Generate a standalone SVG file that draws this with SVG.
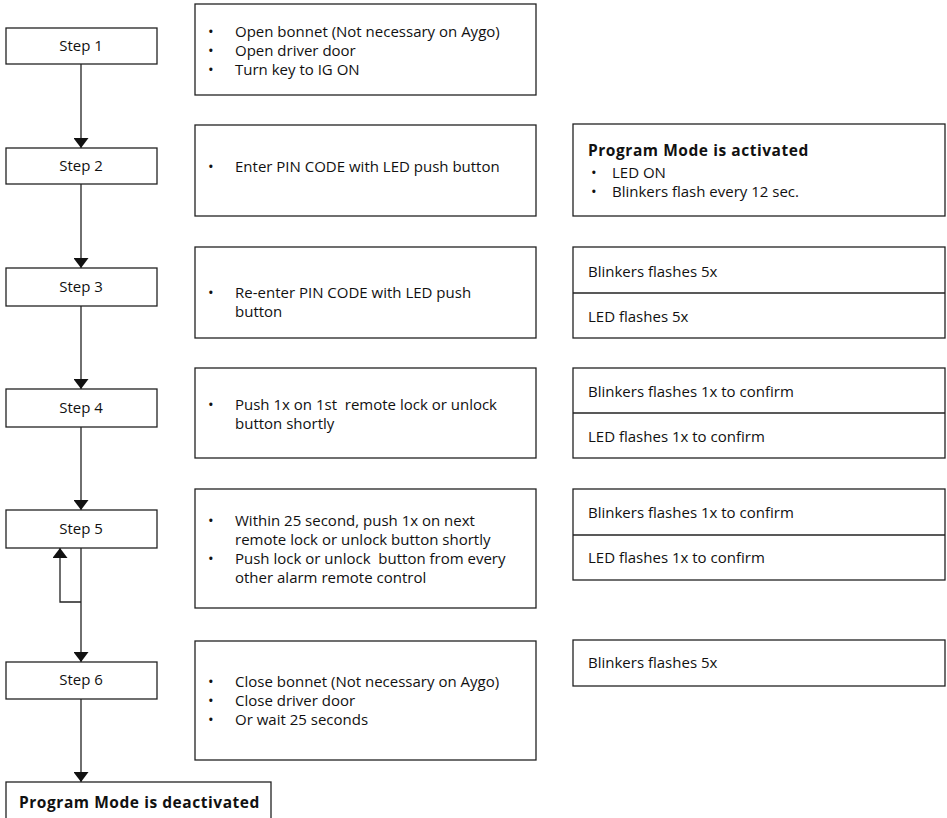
<svg xmlns="http://www.w3.org/2000/svg" width="947" height="818" viewBox="0 0 947 818">
<defs>
<marker id="ah" viewBox="0 0 10 15" refX="10" refY="7.5" markerWidth="10" markerHeight="15" markerUnits="userSpaceOnUse" orient="auto">
<path d="M0,0 L10,7.5 L0,15 Z" fill="#111"/>
</marker>
<style>
.box{fill:#fff;stroke:#222;stroke-width:1.3}
.ln{fill:none;stroke:#222;stroke-width:1.3}
text{font-family:"Open Sans","Liberation Sans",sans-serif;font-size:15px;fill:#111}
.c{text-anchor:middle}
.b{font-weight:bold;font-size:15.5px;letter-spacing:0.55px}
</style>
</defs>
<rect width="947" height="818" fill="#fff"/>

<g id="connectors">
<line class="ln" x1="81" y1="64" x2="81" y2="148" marker-end="url(#ah)"/>
<line class="ln" x1="81" y1="184" x2="81" y2="268" marker-end="url(#ah)"/>
<line class="ln" x1="81" y1="306" x2="81" y2="389" marker-end="url(#ah)"/>
<line class="ln" x1="81" y1="427" x2="81" y2="510" marker-end="url(#ah)"/>
<line class="ln" x1="81" y1="548" x2="81" y2="662" marker-end="url(#ah)"/>
<polyline class="ln" points="81,602 60,602 60,548" marker-end="url(#ah)"/>
<line class="ln" x1="81" y1="699" x2="81" y2="782" marker-end="url(#ah)"/>
</g>

<g id="step1"><rect class="box" x="6" y="28" width="151" height="36"/><text class="c" x="81" y="51">Step 1</text></g>
<g id="step2"><rect class="box" x="6" y="148" width="151" height="36"/><text class="c" x="81" y="171">Step 2</text></g>
<g id="step3"><rect class="box" x="6" y="268" width="151" height="38"/><text class="c" x="81" y="292">Step 3</text></g>
<g id="step4"><rect class="box" x="6" y="389" width="151" height="38"/><text class="c" x="81" y="413">Step 4</text></g>
<g id="step5"><rect class="box" x="6" y="510" width="151" height="38"/><text class="c" x="81" y="534">Step 5</text></g>
<g id="step6"><rect class="box" x="6" y="662" width="151" height="37"/><text class="c" x="81" y="685">Step 6</text></g>

<g id="desc1"><rect class="box" x="195" y="4" width="341" height="91"/>
<text><tspan x="208" y="37">•</tspan><tspan x="235" y="37">Open bonnet (Not necessary on Aygo)</tspan><tspan x="208" y="56">•</tspan><tspan x="235" y="56">Open driver door</tspan><tspan x="208" y="75">•</tspan><tspan x="235" y="75">Turn key to IG ON</tspan></text></g>
<g id="desc2"><rect class="box" x="195" y="125" width="341" height="91"/>
<text><tspan x="208" y="172">•</tspan><tspan x="235" y="172">Enter PIN CODE with LED push button</tspan></text></g>
<g id="desc3"><rect class="box" x="195" y="247" width="341" height="91"/>
<text><tspan x="208" y="298">•</tspan><tspan x="235" y="298">Re-enter PIN CODE with LED push</tspan><tspan x="235" y="317">button</tspan></text></g>
<g id="desc4"><rect class="box" x="195" y="368" width="341" height="90"/>
<text xml:space="preserve"><tspan x="208" y="410">•</tspan><tspan x="235" y="410">Push 1x on 1st  remote lock or unlock</tspan><tspan x="235" y="429">button shortly</tspan></text></g>
<g id="desc5"><rect class="box" x="195" y="489" width="341" height="119"/>
<text xml:space="preserve"><tspan x="208" y="526">•</tspan><tspan x="235" y="526">Within 25 second, push 1x on next</tspan><tspan x="235" y="545">remote lock or unlock button shortly</tspan><tspan x="208" y="564">•</tspan><tspan x="235" y="564">Push lock or unlock  button from every</tspan><tspan x="235" y="583">other alarm remote control</tspan></text></g>
<g id="desc6"><rect class="box" x="195" y="641" width="341" height="119"/>
<text><tspan x="208" y="687">•</tspan><tspan x="235" y="687">Close bonnet (Not necessary on Aygo)</tspan><tspan x="208" y="706">•</tspan><tspan x="235" y="706">Close driver door</tspan><tspan x="208" y="725">•</tspan><tspan x="235" y="725">Or wait 25 seconds</tspan></text></g>

<g id="result2"><rect class="box" x="573" y="124" width="372" height="92"/>
<text><tspan class="b" x="588" y="156">Program Mode is activated</tspan><tspan x="591" y="178">•</tspan><tspan x="612" y="178">LED ON</tspan><tspan x="591" y="197">•</tspan><tspan x="612" y="197">Blinkers flash every 12 sec.</tspan></text></g>
<g id="result3"><rect class="box" x="573" y="247" width="372" height="91"/><line class="ln" x1="573" y1="293" x2="945" y2="293"/>
<text x="588" y="277">Blinkers flashes 5x</text>
<text x="588" y="322">LED flashes 5x</text></g>
<g id="result4"><rect class="box" x="573" y="368" width="372" height="90"/><line class="ln" x1="573" y1="413" x2="945" y2="413"/>
<text x="588" y="397">Blinkers flashes 1x to confirm</text>
<text x="588" y="442">LED flashes 1x to confirm</text></g>
<g id="result5"><rect class="box" x="573" y="489" width="372" height="91"/><line class="ln" x1="573" y1="535" x2="945" y2="535"/>
<text x="588" y="518">Blinkers flashes 1x to confirm</text>
<text x="588" y="563">LED flashes 1x to confirm</text></g>
<g id="result6"><rect class="box" x="573" y="640" width="372" height="46"/>
<text x="588" y="668">Blinkers flashes 5x</text></g>

<g id="end"><rect class="box" x="6" y="782" width="265" height="45"/>
<text class="b" x="19" y="808">Program Mode is deactivated</text></g>
</svg>
